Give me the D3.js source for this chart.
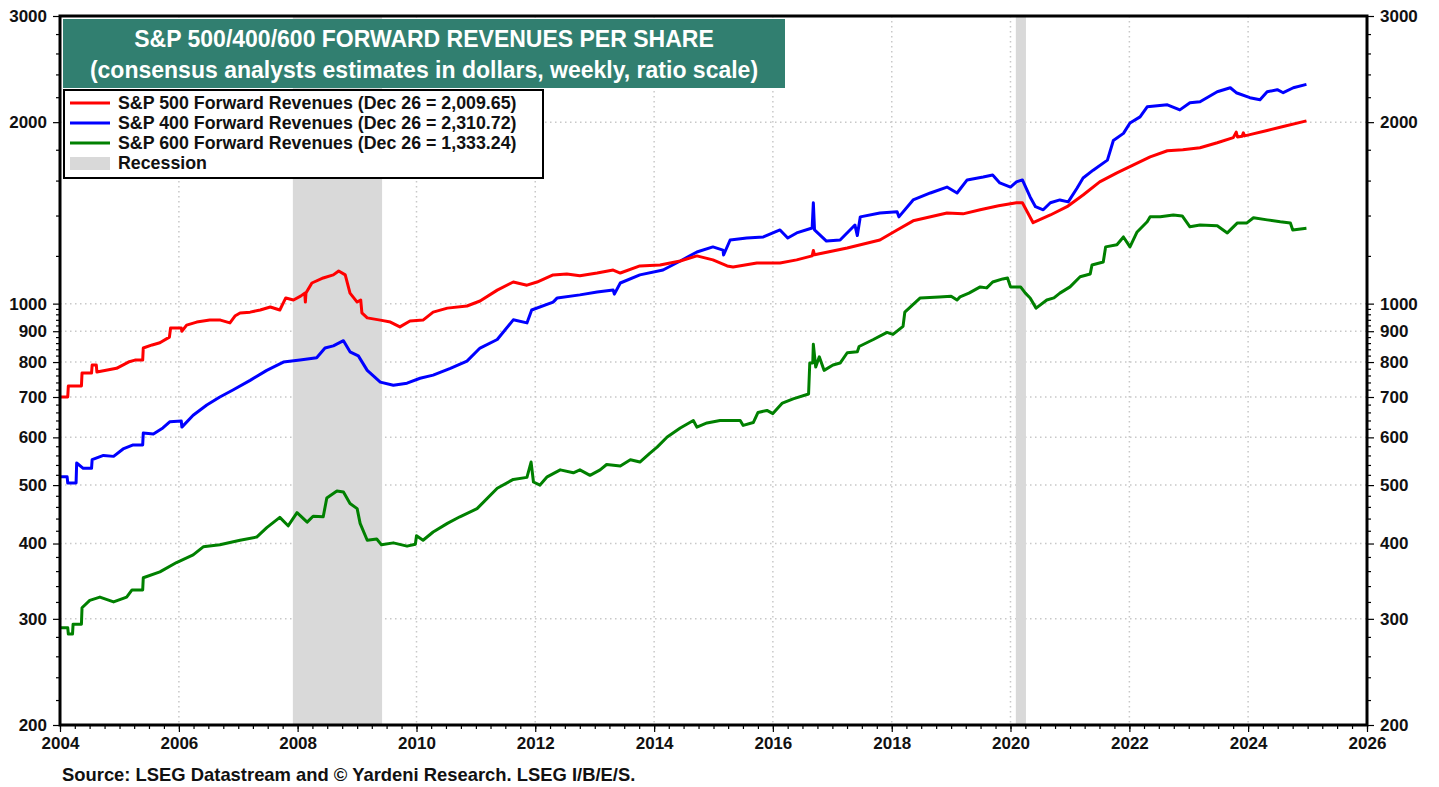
<!DOCTYPE html>
<html>
<head>
<meta charset="utf-8">
<title>S&P 500/400/600 Forward Revenues Per Share</title>
<style>
  body { margin: 0; background: #fff; }
  svg text { font-family: "Liberation Sans", Arial, sans-serif; font-weight: bold; fill: #111; }
</style>
<script src="https://d3js.org/d3.v7.min.js"></script>
</head>
<body>
<svg id="chart" width="1439" height="787"></svg>
<script>
// weekly consensus forward revenues per share as [decimal year, dollars]
const sp500 = [
  [2004.00,700],[2004.13,700],[2004.14,730],[2004.36,730],[2004.37,767],[2004.53,767],[2004.54,791],
  [2004.61,791],[2004.62,770],[2004.95,781],[2005.15,800],[2005.26,806],[2005.39,806],[2005.40,844],
  [2005.55,854],[2005.68,861],[2005.84,880],[2005.86,911],[2006.04,911],[2006.05,900],[2006.13,921],
  [2006.30,932],[2006.52,939],[2006.70,939],[2006.86,929],[2006.95,955],[2007.03,965],[2007.20,968],
  [2007.37,976],[2007.54,987],[2007.70,976],[2007.80,1022],[2007.93,1014],[2008.05,1029],[2008.12,1041],
  [2008.13,1006],[2008.14,1041],[2008.24,1082],[2008.43,1103],[2008.60,1116],[2008.69,1133],[2008.80,1116],
  [2008.88,1041],[2009.00,1006],[2009.06,1014],[2009.08,965],[2009.17,947],[2009.39,939],[2009.56,932],
  [2009.72,915],[2009.89,936],[2010.11,939],[2010.28,968],[2010.52,983],[2010.85,991],[2011.07,1010],
  [2011.36,1053],[2011.63,1086],[2011.86,1073],[2012.03,1086],[2012.30,1116],[2012.53,1120],[2012.75,1112],
  [2013.04,1124],[2013.31,1137],[2013.43,1124],[2013.76,1155],[2014.10,1159],[2014.44,1177],[2014.72,1200],
  [2014.99,1182],[2015.23,1155],[2015.33,1150],[2015.73,1168],[2016.12,1168],[2016.40,1182],[2016.66,1200],
  [2016.68,1225],[2016.70,1205],[2017.25,1237],[2017.80,1275],[2018.09,1325],[2018.36,1372],[2018.93,1414],
  [2019.20,1409],[2019.49,1431],[2019.80,1453],[2020.10,1470],[2020.20,1470],[2020.38,1362],[2020.67,1403],
  [2020.95,1448],[2021.22,1514],[2021.50,1592],[2021.79,1648],[2022.07,1699],[2022.35,1752],[2022.64,1793],
  [2022.90,1800],[2023.19,1814],[2023.48,1849],[2023.75,1885],[2023.80,1925],[2023.82,1890],[2023.90,1895],
  [2023.92,1920],[2023.94,1898],[2024.03,1907],[2024.32,1937],[2024.59,1967],[2024.98,2009.65]
];
const sp400 = [
  [2004.00,516],[2004.12,516],[2004.13,504],[2004.27,504],[2004.28,544],[2004.39,533],[2004.53,533],
  [2004.54,551],[2004.73,560],[2004.90,558],[2005.06,574],[2005.23,583],[2005.39,583],[2005.40,610],
  [2005.57,608],[2005.73,622],[2005.85,637],[2006.04,639],[2006.05,624],[2006.24,653],[2006.47,679],
  [2006.69,700],[2006.91,719],[2007.20,746],[2007.48,775],[2007.76,800],[2008.04,806],[2008.32,813],
  [2008.46,844],[2008.60,851],[2008.77,868],[2008.88,832],[2009.02,819],[2009.17,775],[2009.39,741],
  [2009.61,732],[2009.84,738],[2010.06,752],[2010.28,761],[2010.57,781],[2010.85,803],[2011.07,844],
  [2011.36,872],[2011.63,940],[2011.86,929],[2011.94,976],[2012.30,1006],[2012.37,1022],[2012.75,1034],
  [2013.04,1045],[2013.31,1053],[2013.33,1037],[2013.43,1082],[2013.76,1116],[2014.15,1137],[2014.44,1177],
  [2014.72,1218],[2014.99,1242],[2015.16,1227],[2015.17,1204],[2015.28,1275],[2015.56,1285],[2015.84,1290],
  [2016.12,1325],[2016.25,1285],[2016.40,1310],[2016.66,1335],[2016.68,1470],[2016.70,1325],[2016.90,1270],
  [2017.13,1275],[2017.38,1350],[2017.42,1297],[2017.47,1393],[2017.80,1414],[2018.09,1420],[2018.12,1393],
  [2018.36,1486],[2018.65,1526],[2018.93,1561],[2019.10,1526],[2019.27,1604],[2019.54,1622],[2019.70,1635],
  [2019.82,1586],[2020.00,1561],[2020.10,1592],[2020.20,1604],[2020.33,1503],[2020.42,1448],[2020.55,1431],
  [2020.67,1470],[2020.83,1486],[2020.97,1475],[2021.12,1555],[2021.22,1616],[2021.39,1665],[2021.63,1730],
  [2021.73,1865],[2021.90,1916],[2022.01,1994],[2022.18,2041],[2022.30,2121],[2022.64,2137],[2022.85,2096],
  [2023.02,2154],[2023.19,2162],[2023.48,2246],[2023.70,2281],[2023.80,2238],[2024.03,2196],[2024.20,2179],
  [2024.32,2246],[2024.49,2264],[2024.59,2238],[2024.76,2281],[2024.98,2310.72]
];
const sp600 = [
  [2004.00,290],[2004.13,290],[2004.14,283],[2004.21,283],[2004.22,294],[2004.36,294],[2004.37,313],
  [2004.50,322],[2004.67,326],[2004.90,320],[2005.12,326],[2005.21,335],[2005.39,335],[2005.40,351],
  [2005.68,359],[2005.96,372],[2006.24,383],[2006.41,395],[2006.69,398],[2007.03,405],[2007.31,410],
  [2007.48,425],[2007.70,442],[2007.84,428],[2007.99,450],[2008.16,434],[2008.26,444],[2008.43,443],
  [2008.49,476],[2008.66,489],[2008.77,487],[2008.88,466],[2009.00,457],[2009.05,432],[2009.17,405],
  [2009.33,407],[2009.41,398],[2009.61,401],[2009.84,396],[2009.98,399],[2010.00,412],[2010.11,405],
  [2010.28,418],[2010.52,432],[2010.73,443],[2011.02,457],[2011.36,494],[2011.63,511],[2011.86,515],
  [2011.93,546],[2011.97,506],[2012.08,500],[2012.20,516],[2012.42,530],[2012.64,524],[2012.75,530],
  [2012.92,519],[2013.09,530],[2013.20,541],[2013.43,538],[2013.60,551],[2013.76,546],[2013.93,565],
  [2014.05,578],[2014.22,601],[2014.44,622],[2014.66,640],[2014.72,624],[2014.89,634],[2015.11,640],
  [2015.45,640],[2015.50,628],[2015.67,635],[2015.75,660],[2015.90,665],[2016.00,657],[2016.16,684],
  [2016.34,695],[2016.60,708],[2016.62,797],[2016.67,797],[2016.68,856],[2016.72,785],[2016.78,816],
  [2016.86,775],[2017.01,791],[2017.13,797],[2017.25,829],[2017.42,832],[2017.45,849],[2017.69,872],
  [2017.92,896],[2018.02,889],[2018.19,917],[2018.22,968],[2018.48,1022],[2018.80,1026],[2019.00,1029],
  [2019.10,1014],[2019.15,1026],[2019.30,1041],[2019.49,1066],[2019.60,1062],[2019.70,1086],[2019.87,1099],
  [2019.95,1103],[2020.00,1066],[2020.17,1066],[2020.25,1041],[2020.33,1022],[2020.43,983],[2020.61,1014],
  [2020.73,1022],[2020.83,1041],[2021.00,1066],[2021.17,1108],[2021.34,1120],[2021.37,1159],[2021.56,1172],
  [2021.60,1242],[2021.79,1252],[2021.90,1290],[2022.01,1242],[2022.13,1315],[2022.30,1367],[2022.35,1393],
  [2022.52,1393],[2022.74,1403],[2022.89,1398],[2023.02,1341],[2023.19,1350],[2023.48,1346],[2023.65,1310],
  [2023.82,1361],[2023.98,1361],[2024.09,1388],[2024.32,1377],[2024.54,1367],[2024.71,1361],[2024.75,1325],
  [2024.98,1333.24]
];
const recessions = [[2007.92, 2009.42], [2020.09, 2020.26]];
const yTicks = [200, 300, 400, 500, 600, 700, 800, 900, 1000, 2000, 3000];
const yGrid = [300, 400, 500, 600, 700, 800, 900, 1000, 2000];
const seriesNames = [
  "S&P 500 Forward Revenues (Dec 26 = 2,009.65)",
  "S&P 400 Forward Revenues (Dec 26 = 2,310.72)",
  "S&P 600 Forward Revenues (Dec 26 = 1,333.24)"
];
const seriesColors = ["#ff0000", "#0000ff", "#008000"];
const titleLines = [
  "S&P 500/400/600 FORWARD REVENUES PER SHARE",
  "(consensus analysts estimates in dollars, weekly, ratio scale)"
];
const source = "Source: LSEG Datastream and \u00a9 Yardeni Research. LSEG I/B/E/S.";

const svg = d3.select("#chart");
const pl = 60, pr = 1367, pt = 16, pb = 725;

function toDate(t) {
  const yr = Math.floor(t);
  const a = new Date(yr, 0, 1), b = new Date(yr + 1, 0, 1);
  return new Date(+a + (t - yr) * (b - a));
}

const x = d3.scaleTime().domain([new Date(2004, 0, 1), new Date(2026, 0, 1)]).range([pl, pr]);
const y = d3.scaleLog().domain([200, 3000]).range([pb, pt]);

// grid
const grid = svg.append("g").attr("stroke", "#c8c8c8").attr("stroke-width", 1.5).attr("stroke-dasharray", "1.5,3.5");
grid.selectAll(".hg").data(yGrid).join("line")
  .attr("x1", pl).attr("x2", pr).attr("y1", d => y(d)).attr("y2", d => y(d));
grid.selectAll(".vg").data(d3.range(2006, 2026, 2)).join("line")
  .attr("y1", pt).attr("y2", pb).attr("x1", d => x(new Date(d, 0, 1))).attr("x2", d => x(new Date(d, 0, 1)));

// recessions
svg.append("g").selectAll("rect").data(recessions).join("rect")
  .attr("x", d => x(toDate(d[0]))).attr("width", d => x(toDate(d[1])) - x(toDate(d[0])))
  .attr("y", pt).attr("height", pb - pt).attr("fill", "#d9d9d9");

// lines
svg.append("clipPath").attr("id", "plot").append("rect")
  .attr("x", pl).attr("y", pt).attr("width", pr - pl).attr("height", pb - pt);
const line = d3.line().x(d => x(toDate(d[0]))).y(d => y(d[1]));
svg.append("g").attr("clip-path", "url(#plot)").selectAll("path").data([sp600, sp400, sp500]).join("path")
  .attr("d", line).attr("fill", "none")
  .attr("stroke", (d, i) => seriesColors[2 - i]).attr("stroke-width", 3).attr("stroke-linejoin", "round");

// axes
const minorY = d3.range(220, 1000, 20).filter(v => v % 100 !== 0).concat(d3.range(1200, 3000, 200).filter(v => v !== 2000));
function styleAxis(g) {
  g.select(".domain").remove();
  g.selectAll("line").attr("stroke", "#000").attr("stroke-width", 1.2);
  g.selectAll("text").style("font-size", "17px").attr("fill", "#111");
}
svg.append("g").attr("transform", `translate(${pl},0)`)
  .call(d3.axisLeft(y).tickValues(minorY).tickFormat("").tickSize(4)).call(styleAxis);
svg.append("g").attr("transform", `translate(${pl},0)`)
  .call(d3.axisLeft(y).tickValues(yTicks).tickFormat(d3.format("d")).tickSize(7).tickPadding(6)).call(styleAxis);
svg.append("g").attr("transform", `translate(${pr},0)`)
  .call(d3.axisRight(y).tickValues(minorY).tickFormat("").tickSize(4)).call(styleAxis);
svg.append("g").attr("transform", `translate(${pr},0)`)
  .call(d3.axisRight(y).tickValues(yTicks).tickFormat(d3.format("d")).tickSize(7).tickPadding(6)).call(styleAxis);
svg.append("g").attr("transform", `translate(0,${pb})`)
  .call(d3.axisBottom(x).ticks(d3.timeMonth.every(3)).tickFormat("").tickSize(4)).call(styleAxis);
svg.append("g").attr("transform", `translate(0,${pb})`)
  .call(d3.axisBottom(x).ticks(d3.timeYear.every(2)).tickFormat(d3.timeFormat("%Y")).tickSize(7).tickPadding(5)).call(styleAxis);

// frame
svg.append("rect").attr("x", pl).attr("y", pt).attr("width", pr - pl).attr("height", pb - pt)
  .attr("fill", "none").attr("stroke", "#000").attr("stroke-width", 3);

// title box
svg.append("rect").attr("x", 63).attr("y", 19).attr("width", 722).attr("height", 69).attr("fill", "#317f70");
svg.selectAll(".title").data(titleLines).join("text")
  .attr("x", 424).attr("y", (d, i) => 47 + i * 31).attr("text-anchor", "middle")
  .style("font-size", "23px").style("fill", "#fff").text(d => d);

// legend
const lg = svg.append("g");
lg.append("rect").attr("x", 64).attr("y", 90).attr("width", 479).attr("height", 88)
  .attr("fill", "#fff").attr("stroke", "#000").attr("stroke-width", 2);
seriesNames.forEach((name, i) => {
  const cy = 103 + i * 20;
  lg.append("line").attr("x1", 70).attr("x2", 110).attr("y1", cy).attr("y2", cy)
    .attr("stroke", seriesColors[i]).attr("stroke-width", 3);
  lg.append("text").attr("x", 118).attr("y", cy + 6.3).style("font-size", "17.8px").text(name);
});
lg.append("rect").attr("x", 70).attr("y", 157).attr("width", 40).attr("height", 13).attr("fill", "#d9d9d9");
lg.append("text").attr("x", 118).attr("y", 169.3).style("font-size", "17.8px").text("Recession");

// source
svg.append("text").attr("x", 62).attr("y", 781).style("font-size", "18.4px").text(source);
</script>
</body>
</html>
